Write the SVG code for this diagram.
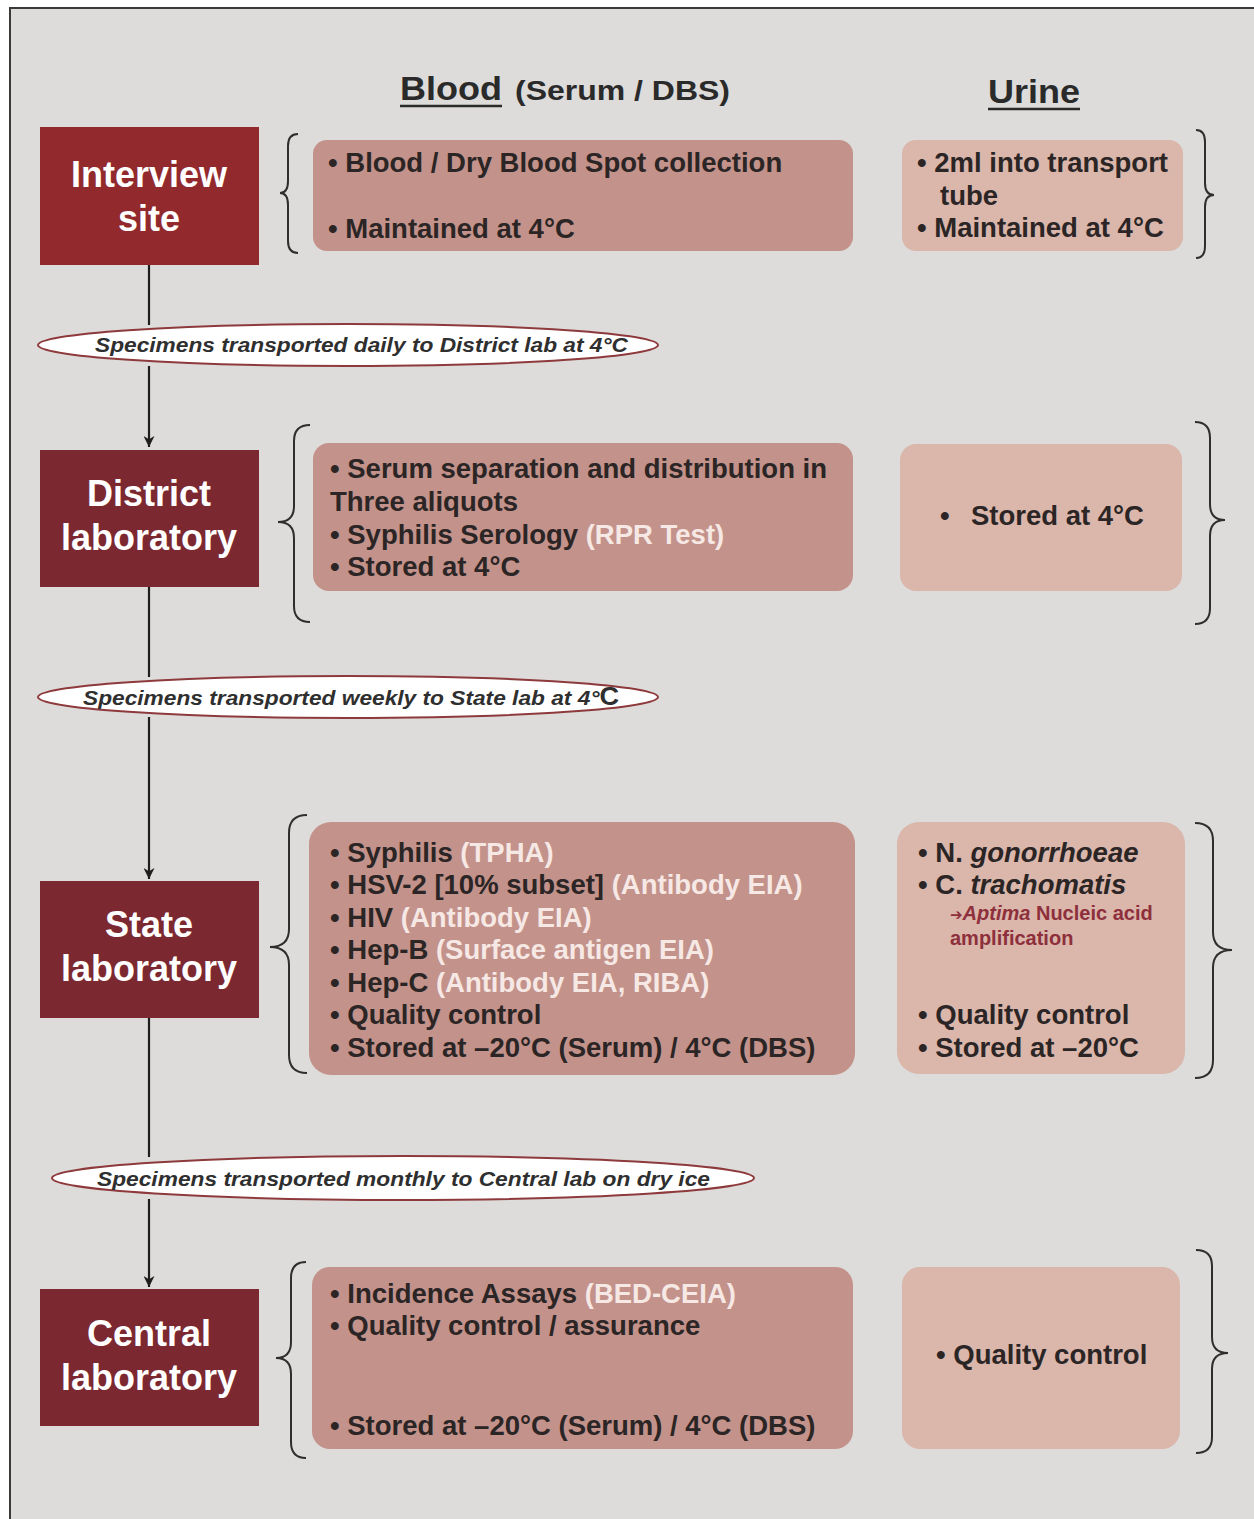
<svg xmlns="http://www.w3.org/2000/svg" width="1254" height="1519" viewBox="0 0 1254 1519">
<style>
.frame{fill:#dddcda;stroke:#3a3a3a;stroke-width:2}
.nbox{fill:#7c2831}
.nt{font-family:"Liberation Sans",Arial,sans-serif;font-weight:bold;font-size:36px;fill:#ffffff;text-anchor:middle}
.t{font-family:"Liberation Sans",Arial,sans-serif;font-weight:bold;font-size:27.5px;fill:#2b2525}
.hl{fill:#f6e8e4}
.sm{font-family:"Liberation Sans",Arial,sans-serif;font-weight:bold;font-size:20px;fill:#8e2f3c}
.hd{font-family:"Liberation Sans",Arial,sans-serif;font-weight:bold;fill:#2a2a2a}
.bbox{fill:#c3928a}
.ubox{fill:#dab6ab}
.br{fill:none;stroke:#2e2e2e;stroke-width:2}
.conn{stroke:#1e1e1e;stroke-width:2.2;fill:none}
.ell{fill:#ffffff;stroke:#8e3a3c;stroke-width:2}
.et{font-family:"Liberation Sans",Arial,sans-serif;font-weight:bold;font-style:italic;font-size:21px;fill:#2f2f2f}
</style>
<defs>
<marker id="arr" viewBox="0 0 10 10" refX="10" refY="5" markerWidth="5" markerHeight="5" orient="auto" markerUnits="strokeWidth">
<path d="M0,0 L10,5 L0,10 L3,5 Z" fill="#1e1e1e"/>
</marker>
</defs>
<rect width="1254" height="1519" fill="#ffffff"/>
<rect class="frame" x="10" y="8" width="1260" height="1530"/>

<g id="headers">
<text class="hd" x="400" y="100" font-size="34" textLength="102" lengthAdjust="spacingAndGlyphs">Blood</text>
<line x1="400" y1="106" x2="502" y2="106" stroke="#2a2a2a" stroke-width="2.5"/>
<text class="hd" x="515" y="100" font-size="27" textLength="215" lengthAdjust="spacingAndGlyphs">(Serum / DBS)</text>
<text class="hd" x="988" y="103" font-size="34" textLength="92" lengthAdjust="spacingAndGlyphs">Urine</text>
<line x1="988" y1="109" x2="1080" y2="109" stroke="#2a2a2a" stroke-width="2.5"/>
</g>

<g id="connectors">
<line class="conn" x1="149" y1="265" x2="149" y2="325"/>
<line class="conn" x1="149" y1="366" x2="149" y2="447" marker-end="url(#arr)"/>
<line class="conn" x1="149" y1="587" x2="149" y2="677"/>
<line class="conn" x1="149" y1="717" x2="149" y2="879" marker-end="url(#arr)"/>
<line class="conn" x1="149" y1="1018" x2="149" y2="1157"/>
<line class="conn" x1="149" y1="1199" x2="149" y2="1287" marker-end="url(#arr)"/>
</g>

<g id="transport1">
<ellipse class="ell" cx="348" cy="345" rx="310" ry="21"/>
<text class="et" x="95" y="352" textLength="533" lengthAdjust="spacingAndGlyphs">Specimens transported daily to District lab at 4°C</text>
</g>
<g id="transport2">
<ellipse class="ell" cx="348" cy="697" rx="310" ry="21"/>
<text class="et" x="83" y="705" textLength="536" lengthAdjust="spacingAndGlyphs">Specimens transported weekly to State lab at 4°<tspan font-style="normal" font-size="25">C</tspan></text>
</g>
<g id="transport3">
<ellipse class="ell" cx="403" cy="1178" rx="351" ry="22"/>
<text class="et" x="97" y="1186" textLength="613" lengthAdjust="spacingAndGlyphs">Specimens transported monthly to Central lab on dry ice</text>
</g>

<g id="interview-site">
<rect x="40" y="127" width="219" height="138" fill="#922a2d"/>
<text class="nt" x="149" y="187">Interview</text>
<text class="nt" x="149" y="231">site</text>
</g>
<g id="district-laboratory">
<rect class="nbox" x="40" y="450" width="219" height="137"/>
<text class="nt" x="149" y="506">District</text>
<text class="nt" x="149" y="550">laboratory</text>
</g>
<g id="state-laboratory">
<rect class="nbox" x="40" y="881" width="219" height="137"/>
<text class="nt" x="149" y="937">State</text>
<text class="nt" x="149" y="981">laboratory</text>
</g>
<g id="central-laboratory">
<rect class="nbox" x="40" y="1289" width="219" height="137"/>
<text class="nt" x="149" y="1346">Central</text>
<text class="nt" x="149" y="1390">laboratory</text>
</g>

<g id="braces">
<path class="br" d="M298,134 Q288,134 288,146 L288,181 Q288,193 280,193 Q288,193 288,205 L288,241 Q288,253 298,253"/>
<path class="br" d="M1196,130 Q1205,130 1205,142 L1205,183 Q1205,195 1214,195 Q1205,195 1205,207 L1205,246 Q1205,258 1196,258"/>
<path class="br" d="M310,425 Q294,425 294,441 L294,506 Q294,522 278,522 Q294,522 294,538 L294,606 Q294,622 310,622"/>
<path class="br" d="M1195,422 Q1210,422 1210,438 L1210,504 Q1210,520 1225,520 Q1210,520 1210,536 L1210,608 Q1210,624 1195,624"/>
<path class="br" d="M307,815 Q289,815 289,833 L289,929 Q289,947 270,947 Q289,947 289,965 L289,1055 Q289,1073 307,1073"/>
<path class="br" d="M1195,823 Q1213,823 1213,841 L1213,932 Q1213,950 1232,950 Q1213,950 1213,968 L1213,1060 Q1213,1078 1195,1078"/>
<path class="br" d="M306,1262 Q291,1262 291,1278 L291,1342 Q291,1358 276,1358 Q291,1358 291,1374 L291,1442 Q291,1458 306,1458"/>
<path class="br" d="M1196,1250 Q1212,1250 1212,1266 L1212,1337 Q1212,1353 1228,1353 Q1212,1353 1212,1369 L1212,1437 Q1212,1453 1196,1453"/>
</g>

<g id="blood-interview">
<rect class="bbox" x="313" y="140" width="540" height="111" rx="14"/>
<text class="t" x="328" y="172">• Blood / Dry Blood Spot collection</text>
<text class="t" x="328" y="238">• Maintained at 4°C</text>
</g>
<g id="urine-interview">
<rect class="ubox" x="902" y="140" width="281" height="111" rx="14"/>
<text class="t" x="917" y="172">• 2ml into transport</text>
<text class="t" x="940" y="205">tube</text>
<text class="t" x="917" y="237">• Maintained at 4°C</text>
</g>

<g id="blood-district">
<rect class="bbox" x="313" y="443" width="540" height="148" rx="16"/>
<text class="t" x="330" y="478">• Serum separation and distribution in</text>
<text class="t" x="330" y="511">Three aliquots</text>
<text class="t" x="330" y="544">• Syphilis Serology <tspan class="hl">(RPR Test)</tspan></text>
<text class="t" x="330" y="576">• Stored at 4°C</text>
</g>
<g id="urine-district">
<rect class="ubox" x="900" y="444" width="282" height="147" rx="16"/>
<text class="t" x="940" y="525">•</text>
<text class="t" x="971" y="525">Stored at 4°C</text>
</g>

<g id="blood-state">
<rect class="bbox" x="309" y="822" width="546" height="253" rx="22"/>
<text class="t" x="330" y="862">• Syphilis <tspan class="hl">(TPHA)</tspan></text>
<text class="t" x="330" y="894">• HSV-2 [10% subset] <tspan class="hl">(Antibody EIA)</tspan></text>
<text class="t" x="330" y="927">• HIV <tspan class="hl">(Antibody EIA)</tspan></text>
<text class="t" x="330" y="959">• Hep-B <tspan class="hl">(Surface antigen EIA)</tspan></text>
<text class="t" x="330" y="992">• Hep-C <tspan class="hl">(Antibody EIA, RIBA)</tspan></text>
<text class="t" x="330" y="1024">• Quality control</text>
<text class="t" x="330" y="1057">• Stored at –20°C (Serum) / 4°C (DBS)</text>
</g>
<g id="urine-state">
<rect class="ubox" x="897" y="822" width="288" height="252" rx="22"/>
<text class="t" x="918" y="862">• N. <tspan font-style="italic">gonorrhoeae</tspan></text>
<text class="t" x="918" y="894">• C. <tspan font-style="italic">trachomatis</tspan></text>
<text class="sm" x="950" y="920"><tspan font-family="DejaVu Sans, sans-serif" font-size="15">➔</tspan><tspan font-style="italic">Aptima</tspan> Nucleic acid</text>
<text class="sm" x="950" y="945">amplification</text>
<text class="t" x="918" y="1024">• Quality control</text>
<text class="t" x="918" y="1057">• Stored at –20°C</text>
</g>

<g id="blood-central">
<rect class="bbox" x="312" y="1267" width="541" height="182" rx="18"/>
<text class="t" x="330" y="1303">• Incidence Assays <tspan class="hl">(BED-CEIA)</tspan></text>
<text class="t" x="330" y="1335">• Quality control / assurance</text>
<text class="t" x="330" y="1435">• Stored at –20°C (Serum) / 4°C (DBS)</text>
</g>
<g id="urine-central">
<rect class="ubox" x="902" y="1267" width="278" height="182" rx="18"/>
<text class="t" x="936" y="1364">• Quality control</text>
</g>
</svg>
